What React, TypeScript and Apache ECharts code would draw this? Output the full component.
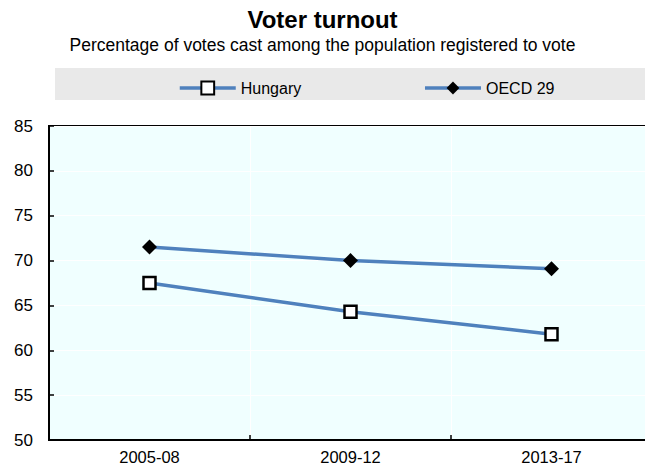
import React, { useEffect, useRef } from "react";
import * as echarts from "echarts";

const categories = ["2005-08", "2009-12", "2013-17"];
const hungary = [67.5, 64.3, 61.8];
const oecd = [71.5, 70.0, 69.1];
const yTicks = { min: 50, max: 85, interval: 5 };

const FONT = "'Liberation Sans', Arial, sans-serif";

export default function App() {
  const ref = useRef<HTMLDivElement>(null);
  useEffect(() => {
    if (!ref.current) return;
    const chart = echarts.init(ref.current, null, { renderer: "svg" });
    chart.setOption({
      animation: false,
      textStyle: { fontFamily: FONT },
      title: {
        text: "Voter turnout",
        subtext: "Percentage of votes cast among the population registered to vote",
        left: "center",
        top: 2,
        itemGap: 5,
        textStyle: { fontFamily: FONT, fontSize: 24, fontWeight: "bold", color: "#000" },
        subtextStyle: { fontFamily: FONT, fontSize: 17.5, color: "#000" },
      },
      graphic: [
        {
          type: "rect",
          shape: { x: 55, y: 68, width: 600, height: 32 },
          style: { fill: "#e9e9e9" },
          z: -10,
        },
      ],
      legend: {
        top: 75,
        left: 173,
        itemGap: 122,
        itemWidth: 56,
        itemHeight: 16,
        lineStyle: { width: 3.5 },
        textStyle: { fontFamily: FONT, fontSize: 16, color: "#000" },
        data: ["Hungary", "OECD 29"],
      },
      grid: {
        left: 49,
        width: 603,
        top: 126,
        height: 314,
        outerBoundsMode: "none",
        containLabel: false,
        show: true,
        backgroundColor: "#f0ffff",
        borderColor: "#000",
        borderWidth: 2,
      },
      xAxis: {
        type: "category",
        data: categories,
        boundaryGap: true,
        axisLine: { lineStyle: { color: "#000", width: 2 } },
        axisTick: { show: true, inside: true, length: 5, lineStyle: { color: "#000", width: 1.5 } },
        splitLine: { show: true, lineStyle: { color: "#ffffff", width: 1 } },
        axisLabel: { color: "#000", fontSize: 16.5, fontFamily: FONT, margin: 8 },
      },
      yAxis: {
        type: "value",
        min: yTicks.min,
        max: yTicks.max,
        interval: yTicks.interval,
        axisLine: { show: true, lineStyle: { color: "#000", width: 2 } },
        axisTick: { show: true, inside: true, length: 5, lineStyle: { color: "#000", width: 1.5 } },
        splitLine: { show: true, lineStyle: { color: "#ffffff", width: 1 } },
        axisLabel: { color: "#000", fontSize: 17, fontFamily: FONT, margin: 16 },
      },
      series: [
        {
          name: "Hungary",
          type: "line",
          data: hungary,
          symbol: "rect",
          symbolSize: 12,
          lineStyle: { color: "#4f81bd", width: 3.5 },
          itemStyle: { color: "#ffffff", borderColor: "#000", borderWidth: 2.5 },
          color: "#4f81bd",
        },
        {
          name: "OECD 29",
          type: "line",
          data: oecd,
          symbol: "diamond",
          symbolSize: 15,
          lineStyle: { color: "#4f81bd", width: 3.5 },
          itemStyle: { color: "#000", borderColor: "#000", borderWidth: 0 },
        },
      ],
    });
    return () => chart.dispose();
  }, []);
  return <div ref={ref} style={{ width: 645, height: 468, position: "absolute", left: 0, top: 0 }} />;
}
